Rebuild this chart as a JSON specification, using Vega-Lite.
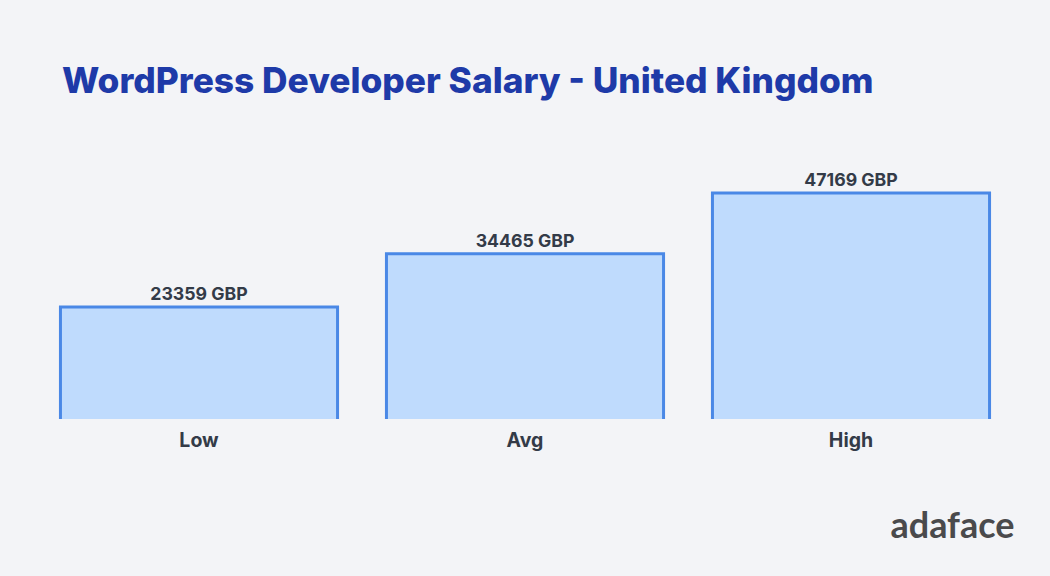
{
  "$schema": "https://vega.github.io/schema/vega-lite/v6.json",
  "autosize": "none",
  "width": 978,
  "height": 278,
  "padding": {"left": 36, "top": 141, "right": 36, "bottom": 157},
  "background": "#f3f4f7",
  "config": {"view": {"stroke": null}},
  "title": {
    "text": "WordPress Developer Salary - United Kingdom",
    "anchor": "start",
    "frame": "group",
    "dx": 26,
    "offset": 13,
    "baseline": "alphabetic",
    "font": "Inter",
    "fontSize": 35.3,
    "fontWeight": 800,
    "color": "#1e3aa8"
  },
  "data": {
    "values": [
      {"level": "Low", "salary": 23359, "label": "23359 GBP"},
      {"level": "Avg", "salary": 34465, "label": "34465 GBP"},
      {"level": "High", "salary": 47169, "label": "47169 GBP"}
    ]
  },
  "encoding": {
    "x": {
      "field": "level",
      "type": "nominal",
      "sort": ["Low", "Avg", "High"],
      "scale": {"paddingInner": 0.15, "paddingOuter": 0.075},
      "axis": {
        "title": "adaface",
        "titleAnchor": "end",
        "titleAlign": "right",
        "titleFont": "Lato",
        "titleFontSize": 36,
        "titleFontWeight": 700,
        "titleColor": "#4a4a4c",
        "titlePadding": 60,
        "labelAngle": 0,
        "labelFont": "Inter",
        "labelFontSize": 19.5,
        "labelFontWeight": 700,
        "labelColor": "#333b48",
        "labelPadding": 12,
        "domain": false,
        "ticks": false
      }
    },
    "y": {
      "field": "salary",
      "type": "quantitative",
      "scale": {"domain": [0, 58000]},
      "axis": null
    }
  },
  "layer": [
    {
      "mark": {"type": "bar", "fill": "#bfdbfd", "stroke": "#4a88e6", "strokeWidth": 3, "clip": true},
      "encoding": {"y2": {"datum": -2000}}
    },
    {
      "mark": {"type": "text", "dy": -12, "font": "Inter", "fontSize": 17.7, "fontWeight": 700, "color": "#333b48"},
      "encoding": {"text": {"field": "label", "type": "nominal"}}
    }
  ]
}
